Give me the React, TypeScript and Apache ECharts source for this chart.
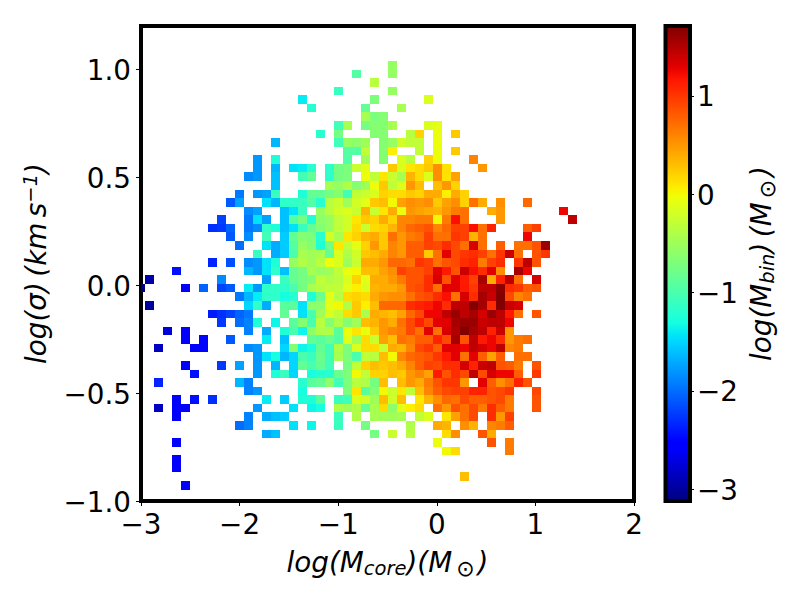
import React, { useEffect, useRef } from "react";
import * as echarts from "echarts";

const xTicks = [-3, -2, -1, 0, 1, 2];
const yTicks = [-1, -0.5, 0, 0.5, 1];
const barTicks = [-3, -2, -1, 0, 1];
const xMin = -3, xMax = 2, yMin = -1, yMax = 1.2;
const barMin = -3.12, barMax = 1.71;
const colMin = -2.96, colStep = 0.0913;
const rowTop = 1.197, rowStep = 0.0397;

// Each row: [column, log mass] pairs; row number counts down from the top of the plot.
const r04 = [[27,-.55]];
const r05 = [[23,-.95],[27,-.55]];
const r06 = [[25,-.35]];
const r07 = [[21,-1.1],[27,-.55]];
const r08 = [[17,-1.4],[25,-.7],[31,-.15]];
const r09 = [[18,-1.2],[24,-.85],[28,-.45]];
const r10 = [[24,-.45],[25,-.7],[26,-.65]];
const r11 = [[21,-1.05],[22,-.45],[24,-.75],[25,-.65],[26,-.65],[27,-.45],[31,-.15],[32,-.1]];
const r12 = [[19,-1.2],[21,-.75],[25,-.65],[26,-.65],[29,-.35],[30,.2],[32,-.05],[34,.25]];
const r13 = [[14,-1.65],[21,-1.05],[22,-.55],[23,-.6],[24,-.5],[26,-.65],[27,-.55],[28,-.2],[29,-.3],[30,-.3],[32,-.05]];
const r14 = [[22,-.95],[23,-.95],[24,-.3],[26,-.65],[27,.05],[30,-.3],[32,-.05],[34,.25]];
const r15 = [[12,-1.8],[14,-1.25],[22,-.95],[24,-.5],[26,-.65],[28,-.15],[29,-.35],[31,.2],[32,-.05],[36,.6]];
const r16 = [[12,-1.8],[14,-1.65],[16,-1.45],[17,-1.4],[18,-1.2],[20,-1.15],[21,-.75],[22,-.7],[23,-.25],[24,-.1],[27,.25],[28,-.15],[29,.1],[30,.15],[31,.25],[32,.55],[33,.12],[37,.5]];
const r17 = [[11,-1.85],[12,-1.8],[14,-1.6],[17,-1.05],[18,-.85],[20,-1.15],[21,-.75],[22,-.7],[24,-.05],[25,-.3],[26,.1],[27,-.25],[28,-.45],[29,.35],[30,.15],[31,-.15],[32,.55],[33,.12],[34,.45]];
const r18 = [[14,-1.6],[20,-.45],[21,-.55],[22,-.4],[23,-.65],[24,-.5],[25,-.05],[26,.25],[27,-.3],[28,-.15],[29,.5],[30,.3],[32,.3],[33,.5],[34,.2]];
const r19 = [[10,-1.95],[12,-1.8],[13,-1.75],[14,-1.1],[17,-1.25],[18,-.85],[19,-.85],[20,-.75],[21,-.65],[22,-1.05],[23,-.3],[24,-.25],[25,-.15],[26,.2],[27,.15],[28,.15],[29,.25],[30,.2],[31,.4],[32,.4],[33,.05],[34,.4],[35,.2]];
const r20 = [[9,-2.1],[10,-1.75],[13,-1.45],[14,-1.65],[15,-1.15],[16,-1.15],[17,-1.1],[18,-.95],[19,-1.2],[20,-.35],[21,-.25],[22,-.5],[23,-.2],[24,-.1],[25,.25],[26,.3],[27,0],[28,.45],[29,.55],[30,.5],[31,.55],[32,.25],[33,.45],[34,.55],[35,.2],[36,.7],[37,.4],[39,.55],[42,.75]];
const r21 = [[11,-1.85],[12,-1.75],[15,-1.6],[16,-1.45],[17,-1.1],[19,-.55],[20,-.35],[21,-.2],[22,-.15],[23,-.25],[24,.35],[25,-.25],[26,.1],[27,.4],[28,-.05],[29,.5],[30,.45],[31,.4],[32,.35],[33,.5],[34,.65],[35,.7],[38,.4],[39,.5],[46,1.25]];
const r22 = [[8,-2.2],[11,-1.95],[12,-1.45],[13,-1.75],[15,-1.6],[16,-.95],[17,-.75],[18,-1.25],[19,-.6],[20,-.55],[21,-.3],[22,-.2],[23,.1],[24,.25],[25,.2],[26,.4],[27,.2],[28,.6],[29,.6],[30,.65],[31,.65],[32,0],[33,.65],[34,1.2],[35,.7],[39,.5],[47,1.45]];
const r23 = [[7,-2.3],[8,-2.25],[9,-2.05],[11,-1.95],[12,-1.85],[13,-1.15],[14,-1.25],[15,-1.6],[16,-1.45],[17,-1.1],[18,-.85],[19,-.65],[20,-.55],[21,-.3],[22,-.2],[23,.15],[24,-.25],[25,.15],[26,.2],[27,.35],[28,.6],[29,.75],[30,.8],[31,.85],[32,.6],[33,.75],[34,.95],[35,.95],[36,1.2],[37,.7],[38,1.1],[42,.8],[43,.95]];
const r24 = [[9,-2.1],[11,-1.85],[13,-1.05],[15,-1.55],[16,-.85],[17,-.65],[18,-.7],[19,-1.2],[20,-.2],[21,-.45],[22,.1],[23,.2],[24,.35],[25,.4],[26,.25],[27,.7],[28,.5],[29,.65],[30,.7],[31,.95],[32,.7],[33,.7],[34,1],[35,.95],[36,.35],[37,.7],[42,1.25]];
const r25 = [[10,-2],[13,-1.45],[14,-1.7],[15,-1.55],[16,-.95],[17,-.55],[18,-.65],[19,-1.25],[20,-.75],[21,.1],[22,-.3],[23,-.1],[24,.2],[25,.5],[26,.25],[27,.6],[28,.5],[29,.8],[30,.8],[31,.95],[32,.9],[33,1.05],[34,.9],[35,.7],[36,1.35],[37,.7],[39,.8],[41,.7],[42,.7],[43,.85],[44,1.6]];
const r26 = [[12,-1.1],[14,-1.7],[15,-1.55],[16,-1],[17,-.45],[18,-.5],[19,-.45],[20,-.85],[21,-.15],[22,-.4],[23,-.2],[24,.25],[25,.3],[26,.4],[27,.6],[28,.5],[29,.8],[30,.8],[31,.25],[32,.7],[33,1.3],[34,.9],[35,1],[36,1.05],[37,.95],[38,.7],[39,1],[40,1.4],[41,.7],[43,.85],[44,1]];
const r27 = [[7,-2.35],[9,-2.15],[11,-1.85],[12,-1.8],[13,-1.45],[14,-1.25],[16,-.55],[17,-.4],[18,-.5],[19,-.35],[20,-.05],[21,-.15],[22,-.5],[23,-.25],[24,.4],[25,.4],[26,.5],[27,.75],[28,.75],[29,.7],[30,1],[31,.95],[32,.7],[33,.85],[34,.9],[35,1.05],[36,1.1],[37,.65],[38,.95],[39,1.05],[41,1],[42,1.45],[43,.85]];
const r28 = [[3,-2.45],[11,-1.65],[12,-1.8],[13,-1.45],[14,-1.15],[15,-1.6],[16,-.85],[17,-.75],[18,-.45],[19,-.55],[20,-.5],[21,-.3],[22,-.05],[23,0],[24,.3],[25,.3],[26,.45],[27,.55],[28,.95],[29,.85],[30,.85],[31,.95],[32,1.3],[33,1.15],[34,.85],[35,1.4],[36,1.2],[37,1.05],[38,1.3],[39,.55],[41,1.55],[42,1.25]];
const r29 = [[0,-2.95],[8,-1.85],[13,-1.75],[15,-1.1],[16,-.85],[17,-.75],[18,-.65],[19,-.3],[20,-.4],[21,-.35],[22,-.15],[23,.2],[24,-.1],[25,.4],[26,.4],[27,.5],[28,.65],[29,.85],[30,.85],[31,1.05],[32,1.35],[33,.85],[34,1.3],[35,1.15],[36,.95],[37,1.55],[38,.4],[39,1.1],[40,1.45],[41,.7],[43,1.35]];
const r30 = [[-1,-3.1],[4,-2.6],[6,-2.05],[8,-2.2],[9,-2.1],[11,-1.4],[12,-1.8],[13,-1.15],[14,-1.15],[15,-1.15],[16,-1],[17,-.75],[18,-.45],[19,-.35],[20,-.3],[21,-.3],[22,-.1],[23,.05],[24,-.15],[25,.35],[26,.4],[27,.4],[28,.5],[29,.85],[30,.9],[31,1.05],[32,.7],[33,1.3],[34,1.3],[35,1.15],[36,1],[37,1.45],[38,1.45],[39,1.65],[40,1.05],[41,1],[42,.8],[43,.85]];
const r31 = [[10,-1.95],[11,-1.65],[12,-1.4],[13,-1.15],[14,-1.15],[15,-1.3],[16,-1.2],[18,-1.25],[19,-.8],[20,-.1],[21,-.35],[22,.15],[23,.2],[24,.15],[25,.4],[26,.5],[27,.55],[28,.55],[29,.7],[30,.85],[31,.9],[32,1.05],[33,1.2],[34,.7],[35,1.35],[36,1.05],[37,1.55],[38,1.4],[39,1.7],[40,.9],[41,.6],[42,.7]];
const r32 = [[0,-3],[11,-1.5],[12,-1.15],[13,-1.7],[15,-.9],[16,-.9],[17,-1.45],[18,-.6],[19,-.6],[20,-.1],[21,0],[22,-.4],[23,.25],[24,.05],[25,.3],[26,.75],[27,.75],[28,.75],[29,1.05],[30,1.1],[31,1.15],[32,1.25],[33,1.05],[34,1.45],[35,1.45],[36,1.7],[37,1.55],[38,1.05],[39,1.7],[40,1.4],[41,1.35]];
const r33 = [[7,-2.4],[8,-2.3],[9,-2.2],[10,-2.05],[11,-1.95],[15,-.85],[17,-1.45],[18,-1],[19,-.5],[20,-.15],[21,-.3],[22,.15],[23,.25],[24,-.45],[25,.4],[26,.35],[27,.3],[28,.45],[29,.75],[30,.9],[31,1.25],[32,1.25],[33,1.45],[34,1.6],[35,1.45],[36,1.55],[37,1.35],[38,1.6],[39,1.45],[40,1.15],[41,.7],[43,.85]];
const r34 = [[8,-2.25],[10,-2],[11,-1.9],[12,-1.25],[14,-1.35],[16,-.9],[17,-.65],[18,-1],[19,-.35],[20,-.65],[21,-.4],[22,-.65],[23,-.5],[24,.3],[25,.35],[26,.5],[27,.4],[28,.7],[29,.9],[30,1.1],[31,.9],[32,1.3],[33,1.3],[34,1.55],[35,1.6],[36,1.6],[37,1.4],[38,1.45],[39,1.45],[40,1.25]];
const r35 = [[2,-2.75],[4,-2.6],[11,-1.9],[13,-1.7],[15,-1.25],[16,-1],[17,-1.35],[18,-.6],[19,-.4],[20,-.4],[21,-.9],[22,-.05],[23,.1],[24,-.05],[25,.25],[26,.5],[27,.6],[28,.65],[29,.9],[30,.7],[31,1.3],[32,.7],[33,1.35],[34,1.5],[35,1.7],[36,1.55],[37,1.45],[38,1.1],[39,1.4],[40,.5]];
const r36 = [[4,-2.6],[6,-2.5],[9,-2.1],[13,-1.4],[15,-1.6],[18,-.85],[19,-.9],[20,-.8],[21,-.95],[22,-.1],[23,-.5],[24,.15],[25,-.25],[26,.45],[27,.3],[28,.7],[29,.65],[30,.8],[31,.8],[32,1.1],[33,.9],[34,1.55],[35,.85],[36,1.45],[37,1.15],[38,1.25],[39,1.05],[40,.5],[41,.65],[42,.7]];
const r37 = [[1,-2.85],[5,-2.55],[6,-2.5],[11,-1.85],[12,-1.8],[15,-1.5],[16,-.65],[17,-1.35],[18,-1.25],[19,-.85],[20,-1.05],[21,-.4],[22,-.7],[23,-.15],[24,.15],[25,.15],[26,-.25],[27,.4],[28,.35],[29,.6],[30,.9],[31,1],[32,.8],[33,1.3],[34,1.3],[35,1.25],[36,1.45],[37,1.35],[38,1.25],[39,1.45],[40,.6],[41,.65]];
const r38 = [[12,-1.8],[13,-1.45],[14,-1.3],[15,-1.65],[16,-1.5],[17,-1],[18,-1.1],[19,-.8],[20,-1.05],[21,-.45],[22,-.7],[23,-1],[24,-.3],[25,-.35],[26,.3],[27,0],[28,.6],[29,.75],[30,.8],[31,.85],[32,1],[33,1.15],[34,1.3],[35,.7],[36,1.3],[37,.8],[38,.45],[39,.8],[41,.7],[42,.7]];
const r39 = [[4,-2.6],[8,-2.25],[10,-1.75],[12,-1.8],[14,-1.65],[16,-1.5],[17,-.85],[18,-1],[19,-.85],[20,-1.05],[22,-.75],[23,-.3],[24,.2],[25,.3],[26,.25],[27,.3],[28,.4],[29,.6],[30,.8],[31,.95],[32,.9],[33,1.05],[34,1.05],[35,1.35],[36,1.1],[37,1.4],[38,1.45],[39,.85],[40,.8],[41,.65],[43,.85]];
const r40 = [[5,-2.45],[12,-1.8],[14,-1.25],[15,-1.1],[16,-1.5],[18,-1.3],[19,-1.2],[20,-1.2],[21,-.8],[22,-.7],[23,0],[24,-.3],[25,.2],[26,.2],[27,.3],[28,.25],[29,.5],[30,.6],[31,.45],[32,1.15],[33,.85],[34,1.05],[35,.9],[36,1.45],[37,.9],[38,1.35],[39,1.25],[40,1.25],[41,.8],[43,1]];
const r41 = [[1,-2.35],[10,-1.65],[11,-1.9],[17,-1.2],[18,-.9],[19,-.85],[20,-.6],[21,-1.05],[22,-.7],[23,-.35],[24,-.4],[25,-.75],[26,.3],[28,.3],[29,.5],[30,.4],[31,.65],[32,.85],[33,1],[34,1],[35,.5],[37,1.3],[38,.8],[39,.55],[40,.7],[41,1.1],[42,.85]];
const r42 = [[11,-1.9],[12,-1.8],[17,-1.3],[22,-.7],[23,.1],[24,-.9],[25,-.65],[26,0],[27,-.25],[28,.1],[29,-.3],[30,.3],[31,.6],[32,.8],[33,.9],[34,.95],[35,.95],[36,1.1],[37,1.1],[38,.85],[39,.9],[40,1],[43,.9]];
const r43 = [[3,-2.6],[5,-2.45],[7,-2.3],[13,-1.4],[15,-1.55],[17,-1.25],[18,-1.25],[19,-.9],[21,-1.1],[22,-1.05],[23,-.15],[24,-.2],[25,-.5],[26,.3],[27,-.2],[28,.3],[30,.1],[31,.35],[32,.55],[33,.75],[34,.7],[35,.9],[36,.8],[37,.8],[38,.85],[39,.9],[40,.65],[43,.85]];
const r44 = [[1,-2.85],[3,-2.6],[4,-2.6],[12,-1.8],[16,-1.45],[18,-1.35],[19,-1.3],[21,-.4],[22,-.5],[23,-.4],[24,-.85],[25,-.45],[26,.15],[27,-.6],[28,-.1],[29,.05],[30,.15],[32,.7],[33,.5],[34,.85],[35,.7],[36,.9],[37,.65],[38,1.05],[39,.8],[40,.65],[43,.85]];
const r45 = [[3,-2.6],[11,-1.9],[13,-1.7],[14,-1.6],[15,-1.55],[21,-1.1],[23,-.4],[25,-.45],[26,-.5],[27,-.5],[28,-.45],[30,-.3],[31,-.15],[33,.1],[34,.45],[35,.7],[36,.9],[38,1.05],[39,.5],[40,.95]];
const r46 = [[10,-2],[11,-1.9],[16,-1.45],[18,-1.35],[21,-1.1],[24,-.75],[29,-.4],[32,.4],[33,.35],[35,.55],[36,.35],[38,.6],[39,.65],[40,.8]];
const r47 = [[13,-1.7],[14,-1.6],[25,-.75],[27,-.25],[29,-.35],[33,.15],[34,.55],[37,.85],[38,.4]];
const r48 = [[3,-2.6],[32,-.05],[38,.85],[40,.65]];
const r49 = [[33,0],[34,.15],[40,.65]];
const r50 = [[3,-2.6]];
const r51 = [[3,-2.6]];
const r52 = [[35,.3]];
const r53 = [[4,-2.6]];

const rowLists = [r04,r05,r06,r07,r08,r09,r10,r11,r12,r13,r14,r15,r16,r17,r18,r19,r20,r21,r22,r23,r24,r25,r26,r27,r28,r29,r30,r31,r32,r33,r34,r35,r36,r37,r38,r39,r40,r41,r42,r43,r44,r45,r46,r47,r48,r49,r50,r51,r52,r53];
const firstRow = 4;

function ramp(t: number, pts: number[][]) {
  for (let i = 1; i < pts.length; i++) {
    if (t <= pts[i][0]) {
      const a = pts[i - 1], b = pts[i];
      return a[1] + ((b[1] - a[1]) * (t - a[0])) / (b[0] - a[0]);
    }
  }
  return pts[pts.length - 1][1];
}
function jet(t: number) {
  const r = ramp(t, [[0,0],[.35,0],[.66,1],[.89,1],[1,.5]]);
  const g = ramp(t, [[0,0],[.125,0],[.375,1],[.64,1],[.91,0],[1,0]]);
  const b = ramp(t, [[0,.5],[.11,1],[.34,1],[.65,0],[1,0]]);
  return `rgb(${Math.round(r * 255)},${Math.round(g * 255)},${Math.round(b * 255)})`;
}
const jetColors = Array.from({ length: 129 }, (_, i) => jet(i / 128));

const mathFont = "DejaVu Sans";
const nameSize = 27.8;
const subSize = 19.5;
const rich = {
  m: { fontFamily: mathFont, fontStyle: "italic", fontSize: nameSize, color: "#000", lineHeight: 42 },
  sub: { fontFamily: mathFont, fontStyle: "italic", fontSize: subSize, color: "#000", lineHeight: 42, padding: [12, 0, 0, 0] },
  sun: { fontFamily: mathFont, fontSize: 22, color: "#000", lineHeight: 42, padding: [12, 3, 0, 4] },
  sup: { fontFamily: mathFont, fontStyle: "italic", fontSize: subSize, color: "#000", lineHeight: 42, padding: [0, 0, 12, 0] },
};

const fmt = (v: number, d: number) => (v < 0 ? "\u2212" : "") + Math.abs(v).toFixed(d);
const tickLabelBase = { fontFamily: "DejaVu Sans", fontSize: 27.8, color: "#000" };

export default function App() {
  const ref = useRef<HTMLDivElement>(null);
  useEffect(() => {
    const chart = echarts.init(ref.current!, undefined, { renderer: "svg" });
    const cells: number[][] = [];
    rowLists.forEach((row, i) => {
      const k = firstRow + i;
      row.forEach(([n, v]) => {
        cells.push([colMin + n * colStep, rowTop - k * rowStep, v]);
      });
    });
    const renderItem = (params: any, api: any) => {
      const x0 = api.value(0), y0 = api.value(1);
      const a = api.coord([x0, y0]);
      const b = api.coord([x0 + colStep, y0 - rowStep]);
      const shape = echarts.graphic.clipRectByRect(
        { x: Math.round(a[0]), y: Math.round(a[1]), width: Math.round(b[0]) - Math.round(a[0]), height: Math.round(b[1]) - Math.round(a[1]) },
        { x: params.coordSys.x, y: params.coordSys.y, width: params.coordSys.width, height: params.coordSys.height }
      );
      return shape ? { type: "rect", shape, style: { fill: api.visual("color") } } : null;
    };
    chart.setOption({
      animation: false,
      backgroundColor: "#fff",
      grid: [
        { left: 141, top: 26, width: 493, height: 475, show: true, borderColor: "#000", borderWidth: 4, backgroundColor: "#fff" },
        {
          left: 665.5, top: 26, width: 24.5, height: 475, show: true, borderColor: "#000", borderWidth: 4,
          backgroundColor: {
            type: "linear", x: 0, y: 1, x2: 0, y2: 0,
            colorStops: jetColors.map((color, i) => ({ offset: i / (jetColors.length - 1), color })),
          },
        },
      ],
      xAxis: [
        {
          type: "value", gridIndex: 0, min: xMin, max: xMax, interval: 1,
          splitLine: { show: false }, axisLine: { show: false, onZero: false },
          axisTick: { show: true, length: 5, lineStyle: { color: "#000", width: 1 }, customValues: xTicks },
          axisLabel: { ...tickLabelBase, margin: 9, customValues: xTicks, formatter: (v: number) => fmt(v, 0) },
          name: "{m|log(M}{sub|core}{m|)(M}{sun|\u2299}{m|)}",
          nameLocation: "middle", nameGap: 40, nameTextStyle: { rich },
        },
        { type: "value", gridIndex: 1, min: 0, max: 1, show: false },
      ],
      yAxis: [
        {
          type: "value", gridIndex: 0, min: yMin, max: yMax, interval: 0.5,
          splitLine: { show: false }, axisLine: { show: false, onZero: false },
          axisTick: { show: true, length: 5, lineStyle: { color: "#000", width: 1 }, customValues: yTicks },
          axisLabel: { ...tickLabelBase, margin: 10, verticalAlign: "top", lineHeight: 3, customValues: yTicks, formatter: (v: number) => fmt(v, 1) },
          name: "{m|log(\u03c3)\u2009(km\u2009s}{sup|\u22121}{m|)}",
          nameLocation: "middle", nameGap: 81, nameRotate: 90, nameTextStyle: { rich },
        },
        {
          type: "value", gridIndex: 1, min: barMin, max: barMax, position: "right", interval: 1,
          splitLine: { show: false }, axisLine: { show: false, onZero: false },
          axisTick: { show: true, length: 4, lineStyle: { color: "#000", width: 1 }, customValues: barTicks },
          axisLabel: { ...tickLabelBase, margin: 7, verticalAlign: "top", lineHeight: 2, customValues: barTicks, formatter: (v: number) => fmt(v, 0) },
          name: "{m|log(M}{sub|bin}{m|)\u2009(M}{sun|\u2299}{m|)}",
          nameLocation: "middle", nameGap: 50, nameRotate: 90, nameTextStyle: { rich },
        },
      ],
      visualMap: { show: false, seriesIndex: 0, dimension: 2, min: barMin, max: barMax, inRange: { color: jetColors } },
      series: [
        {
          type: "custom", xAxisIndex: 0, yAxisIndex: 0, data: cells, renderItem,
          encode: { x: 0, y: 1 }, clip: true,
        },
      ],
    });
    return () => chart.dispose();
  }, []);
  return <div ref={ref} style={{ position: "absolute", left: 0, top: 0, width: 800, height: 600 }} />;
}
